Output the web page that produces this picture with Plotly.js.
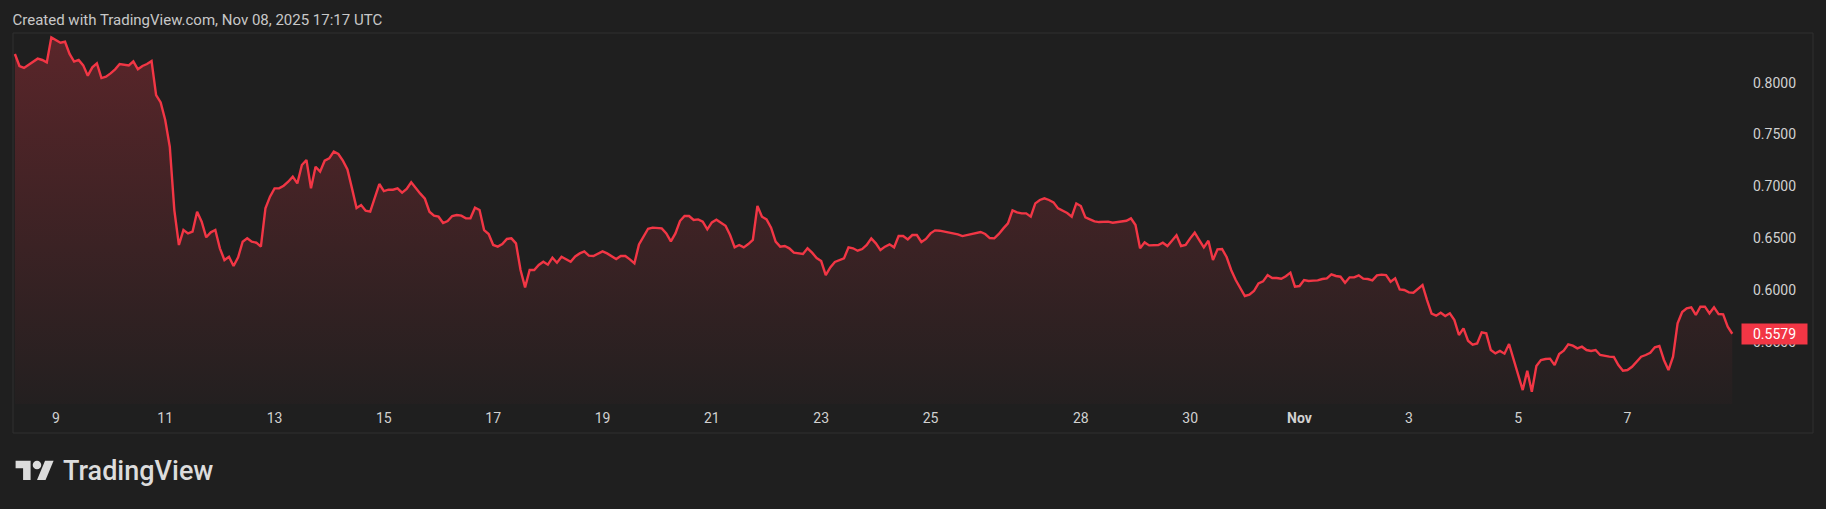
<!DOCTYPE html>
<html>
<head>
<meta charset="utf-8">
<script src="https://cdn.plot.ly/plotly-3.0.1.min.js"></script>
<style>
  html, body { margin: 0; padding: 0; background: #1f1f1f; }
  #chart { width: 1826px; height: 509px; }
</style>
</head>
<body>
<div id="chart"></div>
<script>
// ---------------- DATA ----------------
// 2-hour samples. Segment 1 starts Oct 8 06:00, segment 2 resumes after a short data gap on Oct 26.
const seg1Start = '2025-10-08T06:00:00Z';
const seg2Start = '2025-10-26T14:00:00Z';
const stepHours = 2;

const prices1 = [
  0.8277, 0.8161, 0.8142, 0.8170, 0.8203, 0.8232, 0.8219, 0.8196, 0.8437, 0.8412,
  0.8386, 0.8395, 0.8277, 0.8203, 0.8219, 0.8167, 0.8068, 0.8148, 0.8187, 0.8045,
  0.8058, 0.8090, 0.8129, 0.8180, 0.8170, 0.8167, 0.8206, 0.8129, 0.8161, 0.8180,
  0.8209, 0.7881, 0.7810, 0.7640, 0.7383, 0.6772, 0.6435, 0.6579, 0.6547, 0.6563,
  0.6756, 0.6660, 0.6509, 0.6557, 0.6579, 0.6403, 0.6290, 0.6322, 0.6232, 0.6316,
  0.6467, 0.6499, 0.6467, 0.6457, 0.6419, 0.6788, 0.6901, 0.6981, 0.6981, 0.7007,
  0.7045, 0.7094, 0.7029, 0.7206, 0.7254, 0.6981, 0.7190, 0.7142, 0.7248, 0.7270,
  0.7335, 0.7312, 0.7248, 0.7164, 0.6981, 0.6792, 0.6820, 0.6766, 0.6756, 0.6885,
  0.7023, 0.6955, 0.6968, 0.6968, 0.6981, 0.6939, 0.6975, 0.7039, 0.6981, 0.6930,
  0.6881, 0.6756, 0.6718, 0.6708, 0.6647, 0.6666, 0.6714, 0.6724, 0.6718, 0.6692,
  0.6692, 0.6795, 0.6772, 0.6579, 0.6541, 0.6435, 0.6419, 0.6444, 0.6493, 0.6499,
  0.6451, 0.6194, 0.6026, 0.6194, 0.6194, 0.6242, 0.6274, 0.6245, 0.6313, 0.6264,
  0.6322, 0.6300, 0.6274, 0.6325, 0.6354, 0.6374, 0.6332, 0.6329, 0.6354, 0.6374,
  0.6354, 0.6329, 0.6300, 0.6329, 0.6329, 0.6296, 0.6258, 0.6441, 0.6521, 0.6592,
  0.6602, 0.6595, 0.6595, 0.6547, 0.6470, 0.6547, 0.6666, 0.6714, 0.6714, 0.6676,
  0.6682, 0.6660, 0.6586, 0.6653, 0.6679, 0.6650, 0.6621, 0.6531, 0.6412, 0.6435,
  0.6412, 0.6444, 0.6483, 0.6811, 0.6708, 0.6682, 0.6602, 0.6467, 0.6419, 0.6425,
  0.6403, 0.6361, 0.6354, 0.6348, 0.6403, 0.6361, 0.6309, 0.6280, 0.6145, 0.6219,
  0.6271, 0.6287, 0.6306, 0.6412, 0.6403, 0.6380, 0.6396, 0.6435, 0.6499, 0.6451,
  0.6386, 0.6419, 0.6441, 0.6412, 0.6521, 0.6521, 0.6489, 0.6531, 0.6531, 0.6464,
  0.6493, 0.6547, 0.6576, 0.6573, 0.6566, 0.6554, 0.6547, 0.6538, 0.6521, 0.6531,
  0.6541, 0.6544, 0.6560, 0.6541, 0.6502, 0.6499, 0.6541
];

const prices2 = [
  0.6595, 0.6644, 0.6769, 0.6750, 0.6740, 0.6740, 0.6708, 0.6836, 0.6869, 0.6885,
  0.6869, 0.6846, 0.6788, 0.6766, 0.6743, 0.6708, 0.6836, 0.6811, 0.6701, 0.6682,
  0.6663, 0.6656, 0.6656, 0.6660, 0.6650, 0.6656, 0.6660, 0.6669, 0.6692, 0.6628,
  0.6403, 0.6460, 0.6431, 0.6435, 0.6435, 0.6457, 0.6425, 0.6476, 0.6528, 0.6425,
  0.6435, 0.6499, 0.6554, 0.6483, 0.6412, 0.6476, 0.6290, 0.6393, 0.6396, 0.6319,
  0.6194, 0.6097, 0.6014, 0.5943, 0.5956, 0.5991, 0.6065, 0.6084, 0.6145, 0.6116,
  0.6116, 0.6110, 0.6133, 0.6168, 0.6033, 0.6039, 0.6097, 0.6088, 0.6091, 0.6094,
  0.6107, 0.6113, 0.6152, 0.6136, 0.6129, 0.6071, 0.6123, 0.6123, 0.6142, 0.6110,
  0.6107, 0.6094, 0.6142, 0.6149, 0.6145, 0.6081, 0.6113, 0.6007, 0.6001, 0.5978,
  0.5975, 0.6010, 0.6049, 0.5904, 0.5773, 0.5753, 0.5782, 0.5750, 0.5776, 0.5711,
  0.5567, 0.5631, 0.5512, 0.5474, 0.5486, 0.5593, 0.5583, 0.5422, 0.5390, 0.5413,
  0.5387, 0.5480, 0.5326, 0.5181, 0.5036, 0.5223, 0.5020, 0.5268, 0.5326, 0.5335,
  0.5339, 0.5277, 0.5384, 0.5416, 0.5477, 0.5464, 0.5438, 0.5454, 0.5422, 0.5413,
  0.5422, 0.5374, 0.5364, 0.5358, 0.5355, 0.5277, 0.5223, 0.5229, 0.5261, 0.5306,
  0.5358, 0.5374, 0.5396, 0.5448, 0.5461, 0.5326, 0.5229, 0.5358, 0.5679, 0.5789,
  0.5824, 0.5834, 0.5760, 0.5840, 0.5840, 0.5776, 0.5834, 0.5769, 0.5766, 0.5647,
  0.5579
];

const dayTicks  = ['2025-10-09', '2025-10-11', '2025-10-13', '2025-10-15', '2025-10-17',
                   '2025-10-19', '2025-10-21', '2025-10-23', '2025-10-25', '2025-10-28',
                   '2025-10-30', '2025-11-01', '2025-11-03', '2025-11-05', '2025-11-07'];
const dayLabels = ['9', '11', '13', '15', '17', '19', '21', '23', '25', '28', '30', '<b>Nov</b>', '3', '5', '7'];
const priceTicks = [0.55, 0.60, 0.65, 0.70, 0.75, 0.80];
const gapStart = '2025-10-26 07:00';
const gapHours = 6;

const headerText = 'Created with TradingView.com, Nov 08, 2025 17:17 UTC';
const brandText = 'TradingView';

// ---------------- BUILD ----------------
function times(startIso, n) {
  const t0 = Date.parse(startIso);
  const out = [];
  for (let i = 0; i < n; i++) {
    out.push(new Date(t0 + i * stepHours * 3600e3).toISOString().slice(0, 16).replace('T', ' '));
  }
  return out;
}
const xs = times(seg1Start, prices1.length).concat(times(seg2Start, prices2.length));
const ys = prices1.concat(prices2);
const lastPrice = ys[ys.length - 1];

const W = 1826, H = 509;
const M = { l: 13, r: 86, t: 34, b: 105 };
const PW = W - M.l - M.r, PH = H - M.t - M.b;
const px2x = p => (p - M.l) / PW;
const px2y = p => (H - M.b - p) / PH;

const yTop = 0.84696, yBottom = 0.49016;
const bg = '#1f1f1f';
const red = '#F23645';
const txt = '#d1d1d1';
const FONT = 'Roboto, "Open Sans", sans-serif';

// TradingView logo (svg units -> pixel -> paper)
const LS = 1.07, LX = 15.6, LY = 460.7;
const lp = (X, Y) => [px2x(LX + LS * X), px2y(LY + LS * (Y - 4))];
function poly(pts) {
  return pts.map((p, i) => { const q = lp(p[0], p[1]); return (i ? 'L' : 'M') + q[0].toFixed(6) + ',' + q[1].toFixed(6); }).join(' ') + ' Z';
}
const logoColor = '#dcdcdc';
const c0 = lp(16, 4), c1 = lp(24, 12);

const shapes = [
  { type: 'rect', xref: 'paper', yref: 'paper', x0: px2x(13), x1: px2x(1813), y0: px2y(433), y1: px2y(33),
    line: { color: '#303030', width: 1 }, fillcolor: 'rgba(0,0,0,0)', layer: 'above' },
  { type: 'path', xref: 'paper', yref: 'paper', path: poly([[0,4],[14,4],[14,22],[7,22],[7,11],[0,11]]),
    fillcolor: logoColor, line: { width: 0 } },
  { type: 'path', xref: 'paper', yref: 'paper', path: poly([[20,22],[27.5,4],[35.5,4],[28,22]]),
    fillcolor: logoColor, line: { width: 0 } },
  { type: 'circle', xref: 'paper', yref: 'paper', x0: c0[0], x1: c1[0], y0: c1[1], y1: c0[1],
    fillcolor: logoColor, line: { width: 0 } }
];

const trace = {
  type: 'scatter', mode: 'lines', x: xs, y: ys,
  line: { color: red, width: 2.4 },
  fill: 'tozeroy',
  fillgradient: { type: 'vertical', start: yBottom, stop: 0.845,
    colorscale: [[0, 'rgba(242,54,69,0.02)'], [1, 'rgba(242,54,69,0.28)']] },
  hoverinfo: 'skip'
};

const layout = {
  width: W, height: H,
  margin: M,
  paper_bgcolor: bg, plot_bgcolor: bg,
  showlegend: false,
  font: { family: FONT, color: txt, size: 14 },
  title: { text: headerText, xref: 'container', yref: 'container', x: 12.5 / W, xanchor: 'left',
           y: 1 - 20 / H, yanchor: 'middle', font: { family: FONT, size: 15, color: '#c8c8c8' } },
  xaxis: {
    type: 'date',
    range: ['2025-10-08 05:10', '2025-11-09 01:24'],
    rangebreaks: [{ values: [gapStart], dvalue: gapHours * 3600e3 }],
    tickvals: dayTicks, ticktext: dayLabels,
    showgrid: false, zeroline: false, showline: false, ticks: '',
    tickfont: { family: FONT, size: 14, color: txt },
    ticklabelstandoff: 4,
    fixedrange: true
  },
  yaxis: {
    side: 'right',
    range: [yBottom, yTop],
    tickvals: priceTicks, tickformat: '.4f',
    showgrid: false, zeroline: false, showline: false, ticks: '',
    tickfont: { family: FONT, size: 14, color: txt },
    ticklabelstandoff: 12,
    fixedrange: true
  },
  shapes: shapes,
  annotations: [
    { xref: 'paper', yref: 'y', x: px2x(1741), y: lastPrice, xanchor: 'left', yanchor: 'middle',
      text: lastPrice.toFixed(4), showarrow: false, bgcolor: red, borderpad: 2,
      width: 61, height: 16, align: 'center',
      font: { family: FONT, size: 14, color: '#ffffff' } },
    { xref: 'paper', yref: 'paper', x: px2x(61), y: px2y(471), xanchor: 'left', yanchor: 'middle',
      text: brandText, showarrow: false,
      font: { family: FONT, size: 27, color: logoColor, weight: 500 } }
  ]
};

Plotly.newPlot('chart', [trace], layout, { displayModeBar: false, staticPlot: true });
</script>
</body>
</html>
